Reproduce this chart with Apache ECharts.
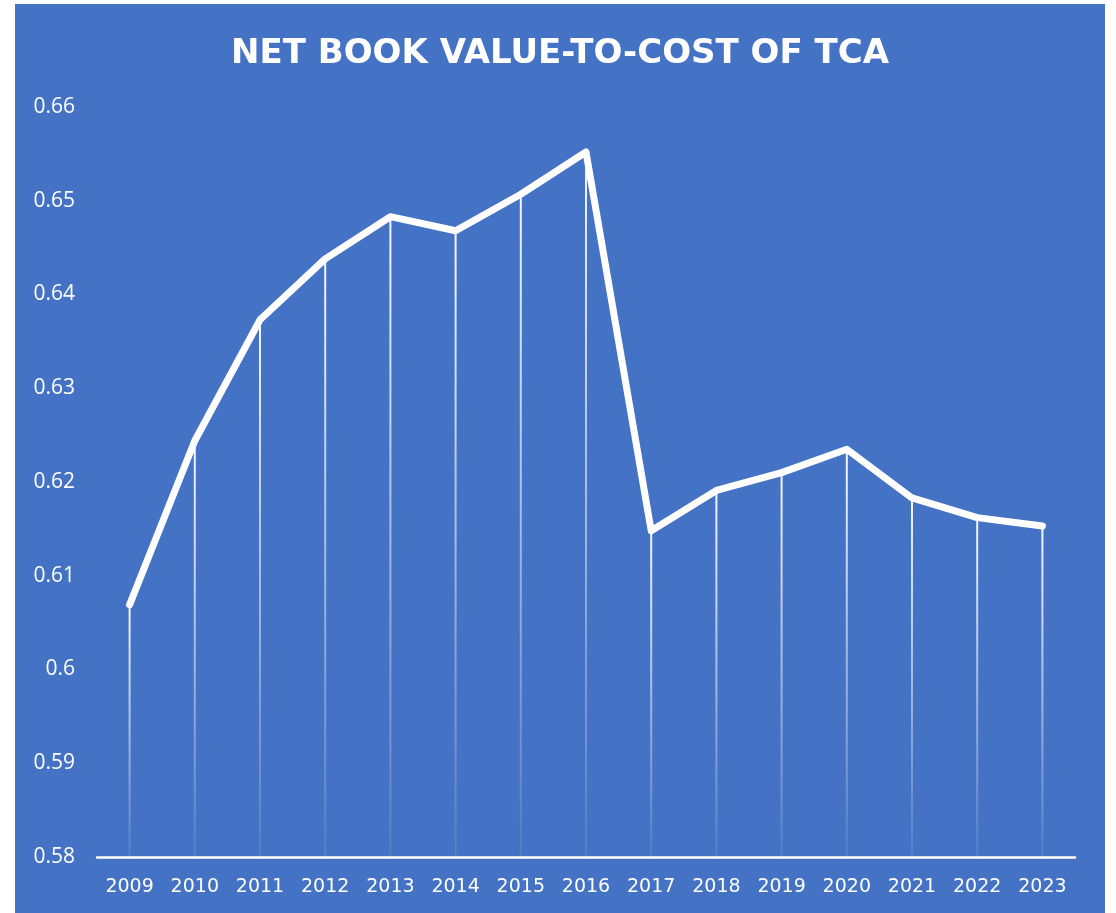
<!DOCTYPE html>
<html>
<head>
<meta charset="utf-8">
<title>Net book value-to-cost of TCA</title>
<script src="https://cdn.jsdelivr.net/npm/echarts@6/dist/echarts.min.js"></script>
<style>
  html, body { margin: 0; padding: 0; background: #ffffff; }
  #chart { position: absolute; left: 15px; top: 4px; width: 1090px; height: 909px; }
</style>
</head>
<body>
<div id="chart"></div>
<script>
  // data
  const years = ['2009', '2010', '2011', '2012', '2013', '2014', '2015', '2016',
    '2017', '2018', '2019', '2020', '2021', '2022', '2023']
  const ratio = [0.6069, 0.6244, 0.6373, 0.6438, 0.6483, 0.6468, 0.6507, 0.6552,
    0.6148, 0.6191, 0.6210, 0.6235, 0.6183, 0.6162, 0.6153]
  const yMin = 0.58
  const yMax = 0.66
  const yStep = 0.01

  const myChart = echarts.init(document.getElementById('chart'))
  const option = {
    backgroundColor: '#4472C4',
    animation: false,
    title: {
      text: 'NET BOOK VALUE-TO-COST OF TCA',
      left: 'center',
      top: 28,
      textStyle: {
        color: '#ffffff',
        fontFamily: 'DejaVu Sans',
        fontWeight: 'bold',
        fontSize: 34
      }
    },
    grid: {
      left: 82,
      right: 30,
      top: 103,
      bottom: 56
    },
    xAxis: {
      type: 'category',
      data: years,
      boundaryGap: true,
      axisLine: { show: true, lineStyle: { color: '#ffffff', width: 2.5 } },
      axisTick: { show: false },
      axisLabel: {
        interval: 0,
        hideOverlap: false,
        color: '#ffffff',
        fontFamily: 'DejaVu Sans',
        fontSize: 19,
        margin: 21
      }
    },
    yAxis: {
      type: 'value',
      min: yMin,
      max: yMax,
      interval: yStep,
      axisLine: { show: false },
      axisTick: { show: false },
      splitLine: { show: false },
      axisLabel: {
        color: '#ffffff',
        fontFamily: 'Open Sans',
        fontSize: 21,
        margin: 22,
        formatter: (v) => String(Number(v.toFixed(2)))
      }
    },
    series: [
      {
        // drop lines from each point down to the axis
        name: 'drop',
        type: 'bar',
        data: ratio,
        barWidth: 2,
        silent: true,
        itemStyle: {
          color: new echarts.graphic.LinearGradient(0, 0, 0, 1, [
            { offset: 0, color: 'rgba(255,255,255,0.95)' },
            { offset: 1, color: 'rgba(255,255,255,0.08)' }
          ])
        },
        z: 1
      },
      {
        name: 'ratio',
        type: 'line',
        data: ratio,
        showSymbol: false,
        lineStyle: {
          color: '#ffffff',
          width: 7,
          cap: 'round',
          join: 'round'
        },
        z: 3
      }
    ]
  }
  myChart.setOption(option)
</script>
</body>
</html>
